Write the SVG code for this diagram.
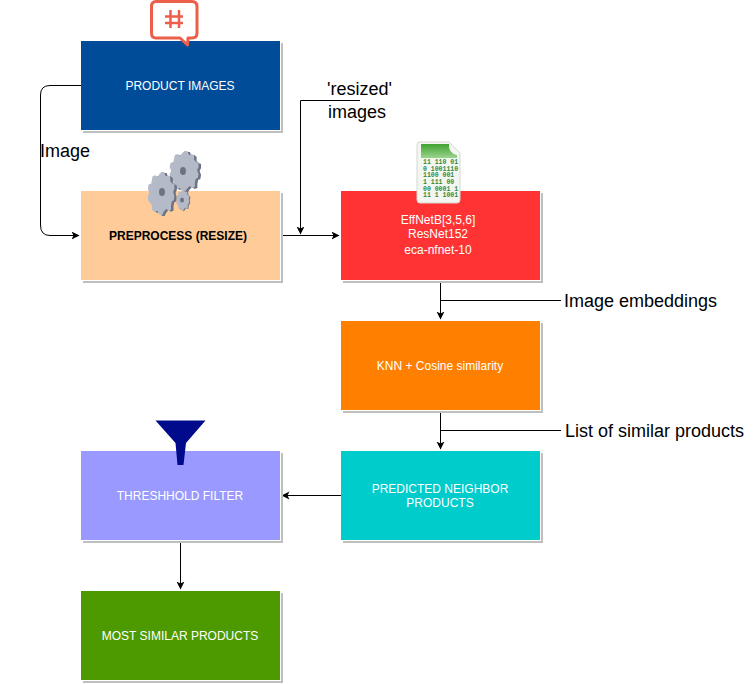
<svg xmlns="http://www.w3.org/2000/svg" width="753" height="684" viewBox="0 0 753 684">
<style>
.sh{fill:#bfbfbf}
.gap{fill:#fff}
.t{font-family:"Liberation Sans",Arial,sans-serif;font-size:12px;text-anchor:middle;fill:#fff}
.l{font-family:"Liberation Sans",Arial,sans-serif;font-size:18px;fill:#000}
.c{fill:none;stroke:#000;stroke-width:1}
</style>
<defs>
<marker id="a" markerWidth="9" markerHeight="9" refX="7.500" refY="4" orient="auto" markerUnits="userSpaceOnUse"><path d="M0 0L8 4L0 8L2 4Z" fill="#000"/></marker>
<path id="gp" d="M0-20L4-20L6-16L10-17L13-15L13-11L16-9L19-8L19-4L17-1L19 3L18 7L15 8L14 12L14 16L10 17L7 15L3 18L1 21L-3 21L-6 17L-10 18L-14 16L-14 12L-17 9L-20 7L-20 3L-18 0L-20-4L-19-8L-15-9L-14-13L-13-16L-9-17L-6-15L-3-18Z"/>
<linearGradient id="leaf" x1="0" y1="0" x2="0" y2="1"><stop offset="0" stop-color="#3fa32f"/><stop offset="1" stop-color="#9ad48e"/></linearGradient>
</defs>
<rect width="753" height="684" fill="#fff"/>
<g id="connectors">
<path class="c" d="M81 85.500H50Q40.500 85.500 40.500 95V225Q40.500 235.500 50 235.500H79" marker-end="url(#a)"/>
<path class="c" d="M281 235.500H339" marker-end="url(#a)"/>
<path class="c" d="M360 100.500H300.500V234" marker-end="url(#a)"/>
<path class="c" d="M440.500 280V319" marker-end="url(#a)"/>
<path class="c" d="M440.500 300.500H561"/>
<path class="c" d="M440.500 410V449" marker-end="url(#a)"/>
<path class="c" d="M440.500 430.500H561"/>
<path class="c" d="M341 495.500H282" marker-end="url(#a)"/>
<path class="c" d="M180.500 541V589" marker-end="url(#a)"/>
</g>
<g id="n1">
<rect class="sh" x="83" y="43" width="200" height="90"/>
<rect class="gap" x="81" y="41" width="200" height="90"/>
<rect x="81" y="41" width="199" height="89" fill="#004c99"/>
<text class="t" x="180" y="90">PRODUCT IMAGES</text>
</g>
<g id="hash-icon" fill="none" stroke="#ec5f4a">
<path d="M156 1.500H192Q197 1.500 197 6.500V33Q197 38 192 38H188L187.500 45L180 38H156Q151.500 38 151.500 33V6.500Q151.500 1.500 156 1.500Z" stroke-width="3" fill="#fff" stroke-linejoin="round"/>
<path d="M170.500 10V28M179 10V28M165 16.500H183M165 23H183" stroke-width="2.500"/>
</g>
<g id="n2">
<rect class="sh" x="83" y="193" width="200" height="90"/>
<rect class="gap" x="81" y="191" width="200" height="90"/>
<rect x="81" y="191" width="199" height="89" fill="#ffcc99"/>
<text class="t" x="178" y="240" style="fill:#000;font-weight:bold">PREPROCESS (RESIZE)</text>
</g>
<g id="gears">
<use href="#gp" transform="translate(187 172) scale(.74 1)" fill="#6d7382"/>
<use href="#gp" transform="translate(184.500 171) scale(.74 1)" fill="#b4bac7"/>
<ellipse cx="183" cy="171" rx="3" ry="4" fill="#6d7382"/>
<use href="#gp" transform="translate(164 194) scale(.68 1.050)" fill="#6d7382"/>
<use href="#gp" transform="translate(161.500 193) scale(.68 1.050)" fill="#b4bac7"/>
<ellipse cx="162" cy="192" rx="3" ry="4" fill="#6d7382"/>
<use href="#gp" transform="translate(184 200.500) scale(.33 .5)" fill="#6d7382"/>
<use href="#gp" transform="translate(183 200) scale(.33 .5)" fill="#b4bac7"/>
<ellipse cx="182" cy="200" rx="2" ry="2.500" fill="#6d7382"/>
</g>
<g id="n3">
<rect class="sh" x="343" y="193" width="200" height="90"/>
<rect class="gap" x="341" y="191" width="200" height="90"/>
<rect x="341" y="191" width="199" height="89" fill="#ff3333"/>
<text class="t" x="438" y="224">EffNetB[3,5,6]</text>
<text class="t" x="438" y="238">ResNet152</text>
<text class="t" x="438" y="254">eca-nfnet-10</text>
</g>
<g id="binary-icon">
<path d="M420 142H449L460 153V200Q460 203 457 203H420Q417 203 417 200V145Q417 142 420 142Z" fill="#f4f6f1" stroke="#d4d8cf"/>
<path d="M421 144H449Q448 153 457 155V158H421Z" fill="url(#leaf)"/>
<g font-family="Liberation Mono,monospace" font-size="6.500" fill="#2e8b3a" font-weight="bold">
<text x="423" y="164">11 110 01</text>
<text x="423" y="170.500">0 1001110</text>
<text x="423" y="177">1100 001</text>
<text x="423" y="184"> 1 111 00</text>
<text x="423" y="190.500">00 0001 1</text>
<text x="423" y="197">11 1 1001</text>
</g>
</g>
<g id="n4">
<rect class="sh" x="343" y="323" width="200" height="90"/>
<rect class="gap" x="341" y="321" width="200" height="90"/>
<rect x="341" y="321" width="199" height="89" fill="#ff8000"/>
<text class="t" x="440" y="370">KNN + Cosine similarity</text>
</g>
<g id="n5">
<rect class="sh" x="343" y="453" width="200" height="90"/>
<rect class="gap" x="341" y="451" width="200" height="90"/>
<rect x="341" y="451" width="199" height="89" fill="#00cccc"/>
<text class="t" x="440" y="493">PREDICTED NEIGHBOR</text>
<text class="t" x="440" y="507">PRODUCTS</text>
</g>
<g id="n6">
<rect class="sh" x="83" y="453" width="200" height="90"/>
<rect class="gap" x="81" y="451" width="200" height="90"/>
<rect x="81" y="451" width="199" height="89" fill="#9999ff"/>
<text class="t" x="180" y="500">THRESHHOLD FILTER</text>
</g>
<path id="funnel" d="M155.500 420.500H205.500L186 443L183.500 465H177.500L175.500 443Z" fill="#000a8a"/>
<g id="n7">
<rect class="sh" x="83" y="593" width="200" height="90"/>
<rect class="gap" x="81" y="591" width="200" height="90"/>
<rect x="81" y="591" width="199" height="89" fill="#4d9900"/>
<text class="t" x="180" y="640">MOST SIMILAR PRODUCTS</text>
</g>
<g id="labels">
<text class="l" x="40" y="157">Image</text>
<text class="l" x="327" y="95">'resized'</text>
<text class="l" x="328" y="118">images</text>
<text class="l" x="564" y="307">Image embeddings</text>
<text class="l" x="565" y="437">List of similar products</text>
</g>
</svg>
